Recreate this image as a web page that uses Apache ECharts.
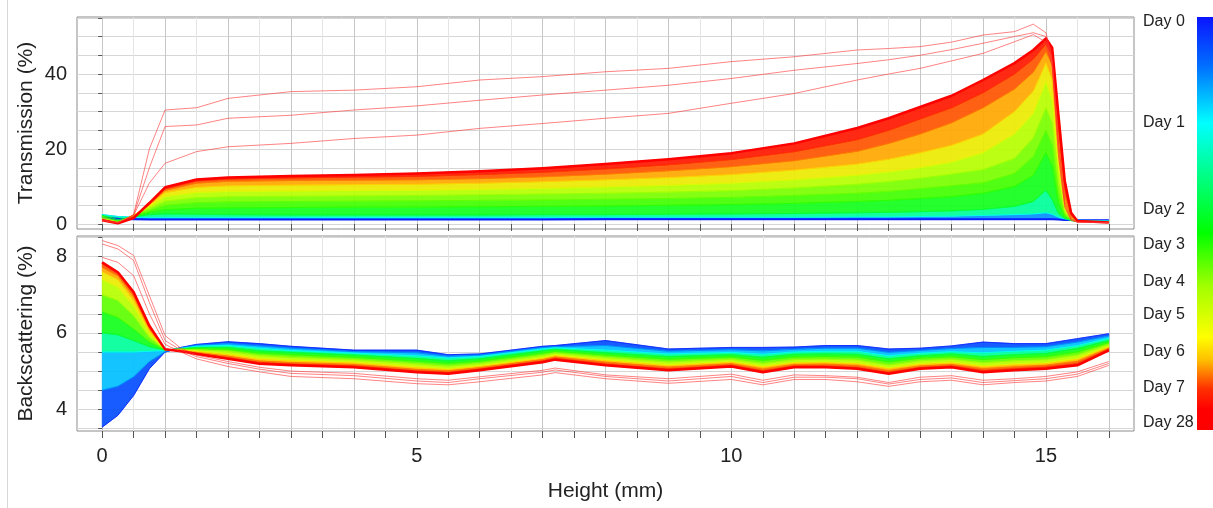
<!doctype html>
<html>
<head>
<meta charset="utf-8">
<title>Transmission / Backscattering</title>
<script src="https://cdn.jsdelivr.net/npm/echarts@6/dist/echarts.min.js"></script>
<style>
html, body { margin: 0; padding: 0; background: #fff; }
#main { width: 1213px; height: 508px; }
</style>
</head>
<body>
<div id="main"></div>
<script>
// ---- axis ticks / labels ----
var xTicks = [0,0.5,1,1.5,2,2.5,3,3.5,4,4.5,5,5.5,6,6.5,7,7.5,8,8.5,9,9.5,10,10.5,11,11.5,12,12.5,13,13.5,14,14.5,15,15.5,16];
var xLabels = [0, 5, 10, 15];
var tTicks = [0,5,10,15,20,25,30,35,40,45,50,55];
var tLabels = [0, 20, 40];
var bTicks = [3.5,4,4.5,5,5.5,6,6.5,7,7.5,8,8.5];
var bLabels = [4, 6, 8];
var dayNames = ['Day 0','Day 1','Day 2','Day 3','Day 4','Day 5','Day 6','Day 7','Day 28'];
var dayValues = [0, 1, 2, 3, 4, 5, 6, 7, 28];

// ---- transmission profiles (%) ----
var heightsT = [0,0.25,0.5,0.75,1,1.5,2,3,4,5,6,7,8,9,10,11,12,12.5,13,13.5,14,14.5,14.8,15,15.1,15.2,15.3,15.4,15.5,16];
var tDays = [0, 1, 2, 3, 3.5, 4, 5, 6, 6.6, 8, 21];
var tDay0   = [1.6,1.4,1.3,1.2,1.2,1.2,1.2,1.2,1.2,1.2,1.2,1.2,1.3,1.3,1.3,1.3,1.3,1.3,1.3,1.3,1.3,1.3,1.3,1.3,1.3,1.2,1.1,1.1,1.0,1.0];
var tDay1   = [2.5,2.0,1.8,1.7,1.7,1.7,1.7,1.7,1.7,1.7,1.7,1.7,1.8,1.8,1.8,1.8,1.9,1.9,2.0,2.1,2.3,2.5,2.7,3.0,2.6,1.8,1.3,1.1,1.0,0.9];
var tDay2   = [2.3,1.2,1.9,2.5,2.7,2.6,2.5,2.4,2.4,2.4,2.4,2.5,2.5,2.6,2.7,2.8,3.0,3.1,3.3,3.5,3.9,4.7,6.0,9.0,6.5,2.8,1.4,0.9,0.8,0.7];
var tDay3   = [2.1,0.8,2.1,3.1,3.8,4.2,4.3,4.4,4.5,4.5,4.6,4.7,4.8,5.0,5.2,5.5,6.0,6.3,6.8,7.3,8.2,10.0,13.0,19.0,15.5,5.5,1.9,1.0,0.7,0.6];
var tDay3h  = [1.9,0.6,2.2,3.6,5.0,5.7,5.9,6.0,6.1,6.2,6.3,6.4,6.6,6.8,7.1,7.6,8.2,8.7,9.4,10.2,11.0,13.5,18.0,25.0,21.0,8.0,2.4,1.1,0.7,0.6];
var tDay4   = [1.7,0.5,2.3,4.1,6.1,7.0,7.3,7.4,7.5,7.6,7.8,8.0,8.2,8.5,8.9,9.6,10.6,11.3,12.2,13.3,14.5,17.5,23.0,31.0,27.0,11.0,3.0,1.2,0.7,0.5];
var tDay5   = [1.5,0.4,2.4,4.6,7.3,8.4,8.7,8.8,8.9,9.0,9.2,9.5,9.9,10.3,10.9,11.8,13.0,13.9,15.0,16.5,19.0,24.0,29.5,38.0,33.0,15.0,4.0,1.4,0.7,0.5];
var tDay6   = [1.3,0.3,2.3,5.0,8.4,9.8,10.2,10.4,10.5,10.6,10.9,11.3,11.8,12.4,13.2,14.4,16.0,17.3,19.0,21.0,24.0,30.0,35.5,43.0,38.5,19.0,5.5,1.6,0.7,0.5];
var tDay6b  = [1.2,0.25,2.1,5.2,9.0,10.9,11.4,11.6,11.7,11.8,12.1,12.6,13.3,14.2,15.3,16.9,19.4,21.5,24.0,27.0,31.0,36.0,40.5,46.0,42.5,23.0,7.5,2.0,0.8,0.4];
var tDay8   = [1.1,0.2,1.8,5.4,9.4,11.5,12.0,12.3,12.5,12.7,13.2,13.8,14.7,15.8,17.2,19.3,22.5,25.0,28.0,31.0,35.0,40.0,44.0,48.0,45.0,26.0,9.5,2.5,0.8,0.4];
var tDay21  = [1.0,0.2,1.6,5.6,9.8,11.9,12.4,12.8,13.1,13.5,14.1,14.9,16.0,17.3,18.9,21.5,25.6,28.2,31.2,34.2,38.4,42.9,46.4,49.5,47.0,29.0,11.5,3.0,0.8,0.4];
var tLate1  = [1.0,0.3,2.5,20.0,30.4,31.0,33.5,35.3,35.7,36.6,38.4,39.3,40.6,41.5,43.3,44.6,46.4,46.8,47.3,48.5,50.4,51.3,53.3,51.0,44.0,22.0,6.0,1.5,0.5,0.4];
var tLate2  = [1.0,0.3,2.4,15.0,26.0,26.4,28.2,29.0,30.4,31.5,33.0,34.4,35.7,37.0,38.8,41.0,42.8,43.8,45.0,46.5,48.2,50.0,51.0,50.0,43.0,20.0,5.0,1.2,0.5,0.4];
var tLate3  = [1.0,0.3,2.3,10.9,16.2,19.3,20.6,21.5,22.8,23.7,25.5,26.8,28.2,29.5,32.2,34.8,38.4,40.0,41.5,43.5,45.5,48.6,50.5,48.5,42.0,18.0,4.5,1.0,0.5,0.4];

// ---- backscattering profiles (%) ----
var heightsB = [0,0.25,0.5,0.75,1,1.25,1.5,2,2.5,3,4,5,5.5,6,7,7.2,8,9,10,10.5,11,11.5,12,12.5,13,13.5,14,14.5,15,15.5,16];
var bDays = [0, 0.5, 1, 2, 3, 4, 5, 6, 6.6, 8, 21];
var bDay0   = [3.53,3.84,4.36,5.06,5.5,5.62,5.7,5.77,5.72,5.65,5.55,5.55,5.43,5.45,5.65,5.67,5.8,5.58,5.62,5.62,5.63,5.67,5.67,5.58,5.60,5.66,5.76,5.72,5.72,5.85,5.98];
var bDay0h  = [4.5,4.6,4.85,5.25,5.5,5.61,5.68,5.72,5.66,5.60,5.51,5.48,5.39,5.42,5.62,5.64,5.67,5.52,5.56,5.53,5.57,5.60,5.60,5.49,5.54,5.59,5.62,5.62,5.64,5.76,5.92];
var bDay1   = [5.5,5.5,5.5,5.52,5.54,5.6,5.65,5.67,5.6,5.54,5.47,5.40,5.34,5.38,5.58,5.61,5.55,5.45,5.49,5.44,5.50,5.52,5.52,5.40,5.47,5.51,5.48,5.52,5.55,5.67,5.86];
var bDay2   = [6.0,5.95,5.8,5.64,5.55,5.59,5.62,5.62,5.53,5.49,5.42,5.33,5.27,5.32,5.53,5.57,5.48,5.38,5.43,5.36,5.44,5.45,5.44,5.32,5.40,5.45,5.38,5.43,5.46,5.59,5.80];
var bDay3   = [6.55,6.4,6.1,5.76,5.55,5.58,5.59,5.57,5.47,5.43,5.36,5.26,5.20,5.26,5.47,5.52,5.42,5.31,5.37,5.28,5.37,5.38,5.37,5.24,5.34,5.38,5.30,5.35,5.38,5.50,5.75];
var bDay4   = [7.0,6.85,6.45,5.88,5.56,5.57,5.56,5.52,5.41,5.36,5.30,5.19,5.13,5.20,5.41,5.47,5.36,5.24,5.31,5.20,5.30,5.31,5.29,5.16,5.27,5.31,5.22,5.27,5.30,5.42,5.70];
var bDay5   = [7.4,7.2,6.7,5.98,5.56,5.55,5.53,5.46,5.34,5.29,5.24,5.12,5.06,5.14,5.35,5.42,5.30,5.17,5.25,5.13,5.23,5.24,5.21,5.09,5.20,5.24,5.14,5.19,5.22,5.34,5.65];
var bDay6   = [7.6,7.4,6.86,6.05,5.56,5.55,5.51,5.42,5.30,5.26,5.21,5.08,5.04,5.12,5.33,5.40,5.27,5.14,5.23,5.10,5.21,5.22,5.19,5.06,5.17,5.21,5.11,5.16,5.19,5.30,5.63];
var bDay6b  = [7.72,7.5,6.96,6.11,5.56,5.54,5.49,5.39,5.26,5.22,5.17,5.04,5.00,5.09,5.30,5.37,5.23,5.10,5.19,5.05,5.17,5.18,5.14,5.01,5.13,5.17,5.06,5.11,5.15,5.25,5.60];
var bDay8   = [7.82,7.56,7.04,6.17,5.57,5.53,5.47,5.35,5.22,5.18,5.13,5.00,4.96,5.05,5.26,5.33,5.18,5.05,5.15,5.00,5.13,5.13,5.09,4.96,5.09,5.13,5.01,5.06,5.10,5.19,5.57];
var bDay21  = [7.85,7.59,7.07,6.19,5.57,5.52,5.45,5.32,5.19,5.15,5.10,4.97,4.93,5.02,5.23,5.30,5.15,5.02,5.12,4.97,5.10,5.10,5.06,4.93,5.06,5.10,4.97,5.02,5.06,5.15,5.54];
var bLate1  = [8.42,8.29,8.03,6.98,5.93,5.6,5.42,5.25,5.1,5.0,4.94,4.8,4.76,4.85,5.02,5.08,4.9,4.8,4.92,4.76,4.9,4.88,4.84,4.7,4.84,4.88,4.76,4.8,4.86,4.98,5.25];
var bLate2  = [8.33,8.2,7.9,6.8,5.8,5.55,5.38,5.2,5.05,4.94,4.88,4.74,4.7,4.8,4.97,5.03,4.86,4.74,4.86,4.7,4.84,4.84,4.8,4.66,4.78,4.82,4.7,4.75,4.8,4.92,5.2];
var bLate3  = [7.98,7.85,7.5,6.5,5.7,5.5,5.32,5.12,4.98,4.86,4.8,4.67,4.64,4.72,4.9,4.96,4.8,4.68,4.78,4.64,4.78,4.78,4.72,4.6,4.72,4.76,4.64,4.7,4.74,4.86,5.15];

var tCurves = [tDay0, tDay1, tDay2, tDay3, tDay3h, tDay4, tDay5, tDay6, tDay6b, tDay8, tDay21];
var tLate = [tLate1, tLate2, tLate3];
var bCurves = [bDay0, bDay0h, bDay1, bDay2, bDay3, bDay4, bDay5, bDay6, bDay6b, bDay8, bDay21];
var bLate = [bLate1, bLate2, bLate3];

// ---- colour scale (styling) ----
var cbTop = 17, cbBottom = 430;
var dayLabelY = [22, 123, 210, 245, 282, 315, 352, 388, 423];
var cbStops = [[0,'#0a14ff'],[0.12,'#0070ff'],[0.257,'#00ffff'],[0.523,'#00ff00'],[0.65,'#a0ff00'],
               [0.775,'#ffff00'],[0.83,'#ffc000'],[0.9,'#ff3000'],[0.95,'#ff0000'],[1,'#ff0000']];

function hexRgb(h) { return [parseInt(h.substr(1,2),16), parseInt(h.substr(3,2),16), parseInt(h.substr(5,2),16)]; }
function rgbStr(c) { return 'rgb(' + Math.round(c[0]) + ',' + Math.round(c[1]) + ',' + Math.round(c[2]) + ')'; }
function colorAtF(f) {
  for (var i = 1; i < cbStops.length; i++) {
    if (f <= cbStops[i][0]) {
      var a = cbStops[i-1], b = cbStops[i], t = (f - a[0]) / (b[0] - a[0]);
      var ca = hexRgb(a[1]), cb = hexRgb(b[1]);
      return [ca[0]+(cb[0]-ca[0])*t, ca[1]+(cb[1]-ca[1])*t, ca[2]+(cb[2]-ca[2])*t];
    }
  }
  return hexRgb(cbStops[cbStops.length-1][1]);
}
function dayF(d) {
  for (var i = 1; i < dayValues.length; i++) {
    if (d <= dayValues[i]) {
      var t = (d - dayValues[i-1]) / (dayValues[i] - dayValues[i-1]);
      var y = dayLabelY[i-1] + (dayLabelY[i] - dayLabelY[i-1]) * t;
      return Math.max(0, Math.min(1, (y - cbTop) / (cbBottom - cbTop)));
    }
  }
  return 1;
}
function dayColor(d) { return colorAtF(dayF(d)); }

function pairs(hs, vals) { return hs.map(function (h, i) { return [h, vals[i]]; }); }

// filled band between two neighbouring profiles
function bandSeries(ai, hs, curves, days) {
  var fills = [];
  for (var k = 0; k < curves.length - 1; k++) {
    var c1 = dayColor(days[k]), c2 = dayColor(days[k+1]);
    fills.push(rgbStr([(c1[0]+c2[0])/2, (c1[1]+c2[1])/2, (c1[2]+c2[2])/2]));
  }
  return {
    type: 'custom', xAxisIndex: ai, yAxisIndex: ai, silent: true, z: 2,
    data: fills.map(function (f, k) { return [hs[0], curves[k][0], k]; }),
    encode: { x: 0, y: 1 },
    renderItem: function (params, api) {
      var k = api.value(2), lo = curves[k], hi = curves[k+1], pts = [];
      for (var i = 0; i < hs.length; i++) pts.push(api.coord([hs[i], lo[i]]));
      for (var j = hs.length - 1; j >= 0; j--) pts.push(api.coord([hs[j], hi[j]]));
      return { type: 'polygon', shape: { points: pts },
               style: { fill: fills[k], stroke: fills[k], lineWidth: 0.6, opacity: 0.92 } };
    }
  };
}

function lineSeries(ai, hs, vals, color, width, opacity, z) {
  return {
    type: 'line', xAxisIndex: ai, yAxisIndex: ai, silent: true, z: z,
    data: pairs(hs, vals), showSymbol: false, symbol: 'none',
    lineStyle: { color: color, width: width, opacity: opacity, join: 'round' }
  };
}

var series = [];
series.push(bandSeries(0, heightsT, tCurves, tDays));
series.push(bandSeries(1, heightsB, bCurves, bDays));
tCurves.forEach(function (c, k) {
  var last = k === tCurves.length - 1;
  series.push(lineSeries(0, heightsT, c, rgbStr(dayColor(tDays[k])), last ? 2.5 : (k === 0 ? 2 : 0.8), 1, 3));
});
bCurves.forEach(function (c, k) {
  var last = k === bCurves.length - 1;
  series.push(lineSeries(1, heightsB, c, rgbStr(dayColor(bDays[k])), last ? 2.5 : 0.8, 1, 3));
});
tLate.forEach(function (c) { series.push(lineSeries(0, heightsT, c, '#ff3030', 1, 0.6, 4)); });
bLate.forEach(function (c) { series.push(lineSeries(1, heightsB, c, '#ff3030', 1, 0.6, 4)); });

var font = 'Liberation Sans, Arial, Helvetica, sans-serif';
var txt = '#222';

var graphics = [
  { type: 'line', shape: { x1: 7.5, y1: 0, x2: 7.5, y2: 508 }, style: { stroke: '#d8d8d8', lineWidth: 1 } },
  { type: 'rect', shape: { x: 1197, y: cbTop, width: 16, height: cbBottom - cbTop },
    style: { fill: new echarts.graphic.LinearGradient(0, 0, 0, 1,
      cbStops.map(function (s) { return { offset: s[0], color: s[1] }; })) } }
];
dayNames.forEach(function (n, i) {
  graphics.push({ type: 'text', x: 1143, y: dayLabelY[i],
    style: { text: n, fill: txt, font: '16px ' + font, textVerticalAlign: 'middle' } });
});

var option = {
  animation: false,
  backgroundColor: '#fff',
  grid: [
    { left: 77, top: 17, width: 1057, height: 212, show: true, borderColor: '#8c8c8c', borderWidth: 1 },
    { left: 77, top: 236, width: 1057, height: 195, show: true, borderColor: '#8c8c8c', borderWidth: 1 }
  ],
  xAxis: [
    { type: 'value', gridIndex: 0, position: 'top', min: -0.4, max: 16.4,
      axisLine: { show: false },
      axisTick: { show: true, inside: true, length: 7, customValues: xTicks, lineStyle: { color: '#555' } },
      axisLabel: { show: false },
      splitLine: { show: true, lineStyle: { color: ['#c6c6c6', '#e4e4e4'], width: 1 } } },
    { type: 'value', gridIndex: 1, position: 'bottom', min: -0.4, max: 16.4,
      name: 'Height (mm)', nameLocation: 'middle', nameGap: 50, nameMoveOverlap: false,
      nameTextStyle: { fontSize: 21, color: txt, fontFamily: font },
      axisLine: { show: false },
      axisTick: { show: true, inside: false, length: 7, customValues: xTicks, lineStyle: { color: '#555' } },
      axisLabel: { customValues: xLabels, fontSize: 20, color: txt, fontFamily: font, margin: 15 },
      splitLine: { show: true, lineStyle: { color: ['#c6c6c6', '#e4e4e4'], width: 1 } } }
  ],
  yAxis: [
    { type: 'value', gridIndex: 0, min: -1.33, max: 55.2,
      name: 'Transmission (%)', nameLocation: 'middle', nameGap: 40, nameMoveOverlap: false,
      nameTextStyle: { fontSize: 21, color: txt, fontFamily: font },
      axisLine: { show: false },
      axisTick: { show: true, length: 4, customValues: tTicks, lineStyle: { color: '#555' } },
      axisLabel: { customValues: tLabels, fontSize: 20, color: txt, fontFamily: font, margin: 10 },
      splitLine: { show: true, lineStyle: { color: '#d6d6d6' } } },
    { type: 'value', gridIndex: 1, min: 3.43, max: 8.54,
      name: 'Backscattering (%)', nameLocation: 'middle', nameGap: 40, nameMoveOverlap: false,
      nameTextStyle: { fontSize: 21, color: txt, fontFamily: font },
      axisLine: { show: false },
      axisTick: { show: true, length: 4, customValues: bTicks, lineStyle: { color: '#555' } },
      axisLabel: { customValues: bLabels, fontSize: 20, color: txt, fontFamily: font, margin: 10 },
      splitLine: { show: true, lineStyle: { color: '#d6d6d6' } } }
  ],
  graphic: graphics,
  series: series
};

var myChart = echarts.init(document.getElementById('main'));
myChart.setOption(option);
</script>
</body>
</html>
